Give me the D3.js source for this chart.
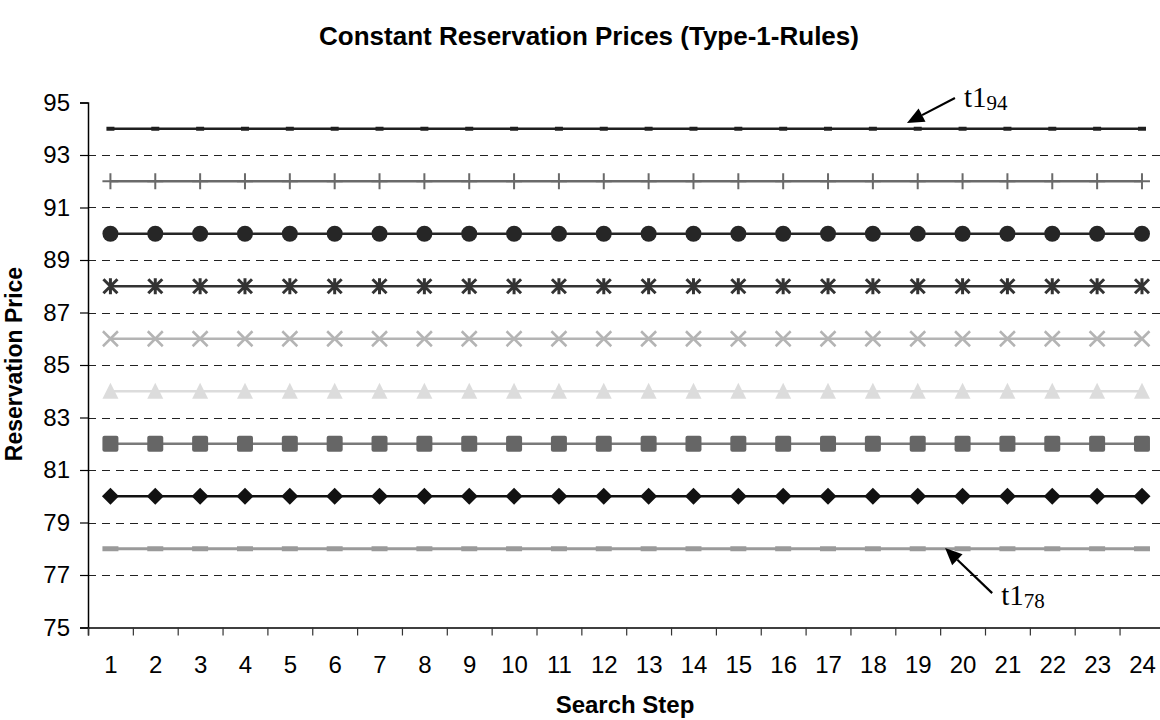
<!DOCTYPE html>
<html>
<head>
<meta charset="utf-8">
<script src="https://cdn.jsdelivr.net/npm/d3@7"></script>
<style>
  html, body { margin: 0; padding: 0; background: #fff; }
  svg { display: block; }
</style>
</head>
<body>
<svg id="chart" width="1160" height="720"></svg>
<script>
// ---- data ----
const steps = d3.range(1, 25);                 // Search Step 1..24
const seriesNames = ["t1_94","t1_92","t1_90","t1_88","t1_86","t1_84","t1_82","t1_80","t1_78"];
const seriesLevels = [94, 92, 90, 88, 86, 84, 82, 80, 78];
const seriesMarkers = ["dash", "plus", "circle", "asterisk", "x", "triangle", "square", "diamond", "wideDash"];
const seriesColors = ["#1f1f1f", "#6a6a6a", "#262626", "#333333", "#b4b4b4", "#dcdcdc", "#666666", "#111111", "#9a9a9a"];
const seriesLineColors = ["#1f1f1f", "#6a6a6a", "#262626", "#333333", "#b4b4b4", "#dcdcdc", "#7a7a7a", "#111111", "#9a9a9a"];
const yTicks = [75, 77, 79, 81, 83, 85, 87, 89, 91, 93, 95];
const gridTicks = [77, 79, 81, 83, 85, 87, 89, 91, 93];
const annotLabels = ["94", "78"];
const annotTip = [[18.76, 94.22], [19.61, 78.03]];
const annotTail = [[19.83, 95.17], [20.66, 76.31]];
const annotText = [[20.03, 94.83], [20.86, 75.86]];

// ---- layout ----
const svg = d3.select("#chart");
const plotLeft = 88, plotTop = 102.5, plotBottom = 627.5, stepW = 44.85;
const x = d3.scaleLinear().domain([0.5, 24.5]).range([plotLeft, plotLeft + 24 * stepW]);
const y = d3.scaleLinear().domain([75, 95]).range([plotBottom, plotTop]);
const SANS = "'Liberation Sans', Arial, sans-serif";

// title
svg.append("text").attr("x", 589).attr("y", 45).attr("text-anchor", "middle")
  .attr("font-family", SANS).attr("font-weight", "bold")
  .attr("font-size", 26).text("Constant Reservation Prices (Type-1-Rules)");

// grid
svg.append("g").selectAll("line").data(gridTicks).join("line")
  .attr("x1", plotLeft).attr("x2", 1160)
  .attr("y1", d => Math.round(y(d)) + 0.5).attr("y2", d => Math.round(y(d)) + 0.5)
  .attr("stroke", "#222").attr("stroke-width", 1).attr("stroke-dasharray", "8,6");

// y axis
const yAxis = svg.append("g").attr("transform", `translate(${plotLeft},0)`)
  .call(d3.axisLeft(y).tickValues(yTicks).tickSize(8).tickPadding(10).tickFormat(d3.format("d")));
yAxis.select(".domain").attr("stroke", "#000").attr("stroke-width", 1.5);
yAxis.selectAll(".tick line").attr("stroke", "#000").attr("stroke-width", 1.2);
yAxis.selectAll("text").attr("font-family", SANS).attr("font-size", 24).attr("fill", "#000");

// x axis: boundary ticks
const xAxis = svg.append("g").attr("transform", `translate(0,${plotBottom})`)
  .call(d3.axisBottom(x).tickValues(d3.range(0.5, 24.6, 1)).tickSize(8).tickFormat(""));
xAxis.select(".domain").attr("stroke", "#000").attr("stroke-width", 1.5);
xAxis.selectAll(".tick line").attr("stroke", "#333").attr("stroke-width", 1.2);
// x labels
const xLab = svg.append("g").attr("transform", `translate(0,${plotBottom})`)
  .call(d3.axisBottom(x).tickValues(steps).tickSize(0).tickFormat(d3.format("d")));
xLab.select(".domain").remove();
xLab.selectAll("text").attr("font-family", SANS).attr("font-size", 24)
  .attr("fill", "#000").attr("dy", 0).attr("y", 45.5);

// axis titles
svg.append("text").attr("x", 625).attr("y", 713).attr("text-anchor", "middle")
  .attr("font-family", SANS).attr("font-weight", "bold")
  .attr("font-size", 24).text("Search Step");
svg.append("text").attr("transform", "translate(22,364) rotate(-90)").attr("text-anchor", "middle")
  .attr("font-family", SANS).attr("font-weight", "bold")
  .attr("font-size", 23).text("Reservation Price");

// marker shapes
const markerPath = {
  dash: "M-4,-2H4V2H-4Z",
  wideDash: "M-8,-2.5H8V2.5H-8Z",
  plus: "M-1,-8H1V8H-1Z M-8,-1H8V1H-8Z",
  circle: "M8,0A8,8 0 1,1 -8,0A8,8 0 1,1 8,0Z",
  triangle: "M0,-8.5L8,7.5H-8Z",
  square: "M-6,-8H6Q8,-8 8,-6V6Q8,8 6,8H-6Q-8,8 -8,6V-6Q-8,-8 -6,-8Z",
  diamond: "M0,-8.5L8.5,0L0,8.5L-8.5,0Z",
  asterisk: "M0,-8V8 M-7,-7L7,7 M7,-7L-7,7",
  x: "M-7.5,-7.5L7.5,7.5 M7.5,-7.5L-7.5,7.5"
};
const strokeMarkers = { asterisk: 3, x: 2.5 };

const line = d3.line().x(d => x(d[0])).y(d => y(d[1]));

seriesLevels.forEach((lvl, i) => {
  const pts = steps.map(s => [s, lvl]);
  const g = svg.append("g").attr("class", "series " + seriesNames[i]);
  g.append("path").attr("d", line(pts)).attr("fill", "none")
    .attr("stroke", seriesLineColors[i]).attr("stroke-width", i === 8 ? 3 : 2.6);
  const m = seriesMarkers[i];
  g.selectAll("path.m").data(pts).join("path").attr("class", "m")
    .attr("transform", d => `translate(${x(d[0])},${y(d[1])})`)
    .attr("d", markerPath[m])
    .attr("fill", strokeMarkers[m] ? "none" : seriesColors[i])
    .attr("stroke", strokeMarkers[m] ? seriesColors[i] : "none")
    .attr("stroke-width", strokeMarkers[m] || 0);
});

// annotations
annotLabels.forEach((lab, i) => {
  const tx = x(annotTip[i][0]), ty = y(annotTip[i][1]);
  const sx = x(annotTail[i][0]), sy = y(annotTail[i][1]);
  const ang = Math.atan2(ty - sy, tx - sx);
  const hl = 17, hw = 7.5;
  const bx = tx - hl * Math.cos(ang), by = ty - hl * Math.sin(ang);
  svg.append("line").attr("x1", sx).attr("y1", sy).attr("x2", bx).attr("y2", by)
    .attr("stroke", "#000").attr("stroke-width", 2.2);
  svg.append("path").attr("d",
    `M${tx},${ty}L${bx + hw * Math.sin(ang)},${by - hw * Math.cos(ang)}L${bx - hw * Math.sin(ang)},${by + hw * Math.cos(ang)}Z`)
    .attr("fill", "#000");
  const t = svg.append("text").attr("x", x(annotText[i][0])).attr("y", y(annotText[i][1]))
    .attr("font-family", "'Liberation Serif', 'Times New Roman', serif").attr("font-size", 29).attr("fill", "#000");
  t.append("tspan").text("t1");
  t.append("tspan").attr("font-size", 21).attr("dy", 3).text(lab);
});
</script>
</body>
</html>
